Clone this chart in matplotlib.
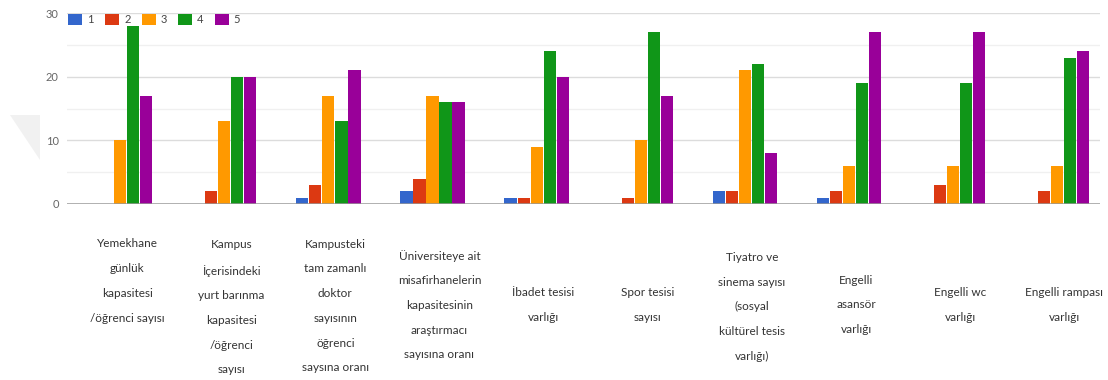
import matplotlib
matplotlib.use("Agg")
import numpy as np
import matplotlib.pyplot as plt
from matplotlib.patches import Polygon, Patch

plt.rcParams['font.family'] = ['Lato', 'DejaVu Sans']

categories = [
    "Yemekhane\ngünlük\nkapasitesi\n/öğrenci sayısı",
    "Kampus\nİçerisindeki\nyurt barınma\nkapasitesi\n/öğrenci\nsayısı",
    "Kampusteki\ntam zamanlı\ndoktor\nsayısının\nöğrenci\nsaysına oranı",
    "Üniversiteye ait\nmisafirhanelerin\nkapasitesinin\naraştırmacı\nsayısına oranı",
    "İbadet tesisi\nvarlığı",
    "Spor tesisi\nsayısı",
    "Tiyatro ve\nsinema sayısı\n(sosyal\nkültürel tesis\nvarlığı)",
    "Engelli\nasansör\nvarlığı",
    "Engelli wc\nvarlığı",
    "Engelli rampası\nvarlığı",
]
series_names = ["1", "2", "3", "4", "5"]
s1 = [0, 0, 1, 2, 1, 0, 2, 1, 0, 0]
s2 = [0, 2, 3, 4, 1, 1, 2, 2, 3, 2]
s3 = [10, 13, 17, 17, 9, 10, 21, 6, 6, 6]
s4 = [28, 20, 13, 16, 24, 27, 22, 19, 19, 23]
s5 = [17, 20, 21, 16, 20, 17, 8, 27, 27, 24]
series = [s1, s2, s3, s4, s5]
colors = ["#3366cc", "#dc3912", "#ff9900", "#109618", "#990099"]

# vertical centre of each category label, in figure pixels from the top
label_y = [281, 307, 306, 305, 305, 305, 307, 305, 305, 305]

W, H = 1108, 380
fig = plt.figure(figsize=(W / 100, H / 100), dpi=100)
ax = fig.add_axes([67 / W, 1 - 204 / H, (1100 - 67) / W, (204 - 13) / H])

# faint watermark in the left margin
fig.patches.append(Polygon([(10 / W, 1 - 115 / H), (40 / W, 1 - 115 / H), (40 / W, 1 - 160 / H)],
                           closed=True, transform=fig.transFigure, facecolor="#f1f1f1",
                           edgecolor="none", zorder=-1))

x = np.arange(len(categories))
bw = 0.125
for j, vals in enumerate(series):
    ax.bar(x + (j - 2) * bw, vals, width=bw * 0.94, color=colors[j], zorder=3)

ax.set_xlim(-0.51, 9.41)
ax.set_ylim(0, 30)
for v in [5, 15, 25]:
    ax.axhline(v, color="#f0f0f0", lw=1, zorder=1)
for v in [10, 20, 30]:
    ax.axhline(v, color="#dcdcdc", lw=1, zorder=1)
ax.axhline(0, color="#999999", lw=1.8, zorder=4)

ax.set_yticks([0, 10, 20, 30])
ax.set_yticklabels(["0", "10", "20", "30"], fontsize=8, color="#666666")
ax.tick_params(axis="y", length=0, pad=6)
ax.set_xticks([])
for s in ax.spines.values():
    s.set_visible(False)

# category labels below the bars
for i, lab in enumerate(categories):
    xf = ax.transData.transform((x[i] + 0.067, 0))[0] / W
    fig.text(xf, 1 - label_y[i] / H, lab, ha="center", va="center", fontsize=8.5,
             color="#333333", linespacing=2.52)

handles = [Patch(facecolor=c) for c in colors]
leg = fig.legend(handles, series_names, loc="upper left", bbox_to_anchor=(64 / W, 1 - 10 / H),
                 ncol=5, frameon=False, fontsize=8, handlelength=1.26, handleheight=1.05,
                 columnspacing=1.0, handletextpad=0.45, borderaxespad=0)
for t in leg.get_texts():
    t.set_color("#444444")

fig.savefig("out.png", dpi=100)
